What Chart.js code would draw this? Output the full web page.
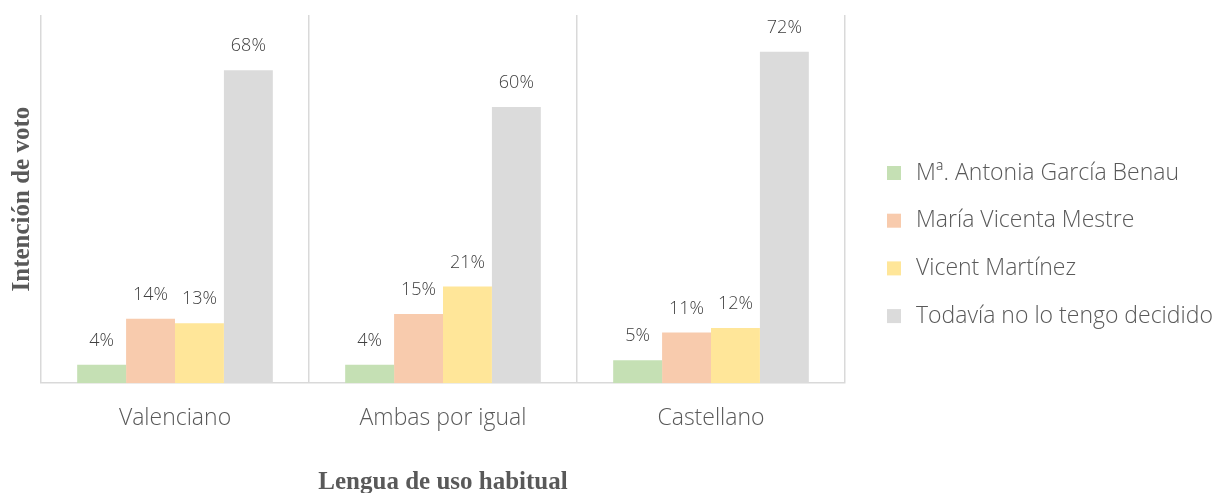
<!DOCTYPE html>
<html>
<head>
<meta charset="utf-8">
<script src="https://cdn.jsdelivr.net/npm/chart.js@4.4.0/dist/chart.umd.min.js"></script>
<style>
  html, body { margin: 0; padding: 0; background: #fff; }
  #wrap { width: 1226px; height: 493px; }
</style>
</head>
<body>
<div id="wrap"><canvas id="voteChart"></canvas></div>
<script>
const categories = ["Valenciano", "Ambas por igual", "Castellano"];
const seriesNames = ["Mª. Antonia García Benau", "María Vicenta Mestre", "Vicent Martínez", "Todavía no lo tengo decidido"];
const garciaBenau = [4, 4, 5];
const vicentaMestre = [14, 15, 11];
const vicentMartinez = [13, 21, 12];
const noDecidido = [68, 60, 72];
const colors = ['#C5E0B4', '#F8CBAD', '#FFE699', '#DBDBDB'];

const sansFont = '"Open Sans", Lato, sans-serif';
const serifFont = '"Liberation Serif", "Times New Roman", serif';

// draws the percentage above every bar
const barLabels = {
    id: 'barLabels',
    afterDatasetsDraw(chart) {
        const ctx = chart.ctx;
        ctx.save();
        ctx.font = '300 18px ' + sansFont;
        ctx.fillStyle = '#404040';
        ctx.textAlign = 'center';
        ctx.textBaseline = 'middle';
        chart.data.datasets.forEach((ds, i) => {
            chart.getDatasetMeta(i).data.forEach((bar, j) => {
                ctx.fillText(ds.data[j] + '%', bar.x, bar.y - 24);
            });
        });
        ctx.restore();
    }
};

// legend on the right, placed like the original
const sideLegend = {
    id: 'sideLegend',
    afterDraw(chart) {
        const ctx = chart.ctx;
        ctx.save();
        ctx.font = '300 23px ' + sansFont;
        ctx.textBaseline = 'middle';
        chart.data.datasets.forEach((ds, i) => {
            const y = 173 + i * 47.7;
            ctx.fillStyle = ds.backgroundColor;
            ctx.fillRect(887, y - 7, 14, 14);
            ctx.fillStyle = '#595959';
            ctx.fillText(ds.label, 916, y);
        });
        ctx.restore();
    }
};

const values = [garciaBenau, vicentaMestre, vicentMartinez, noDecidido];

new Chart(document.getElementById('voteChart'), {
    type: 'bar',
    data: {
        labels: categories,
        datasets: values.map((v, i) => ({
            label: seriesNames[i],
            data: v,
            backgroundColor: colors[i],
            borderWidth: 0,
            categoryPercentage: 0.73,
            barPercentage: 1
        }))
    },
    options: {
        responsive: true,
        maintainAspectRatio: false,
        animation: false,
        layout: { padding: { top: 15, right: 381, left: 8, bottom: 0 } },
        plugins: {
            legend: { display: false },
            tooltip: { enabled: false }
        },
        scales: {
            x: {
                grid: {
                    display: true,
                    color: '#D9D9D9',
                    lineWidth: 1.5,
                    offset: true,
                    drawTicks: false
                },
                border: { display: true, color: '#D9D9D9', width: 1.5 },
                ticks: {
                    padding: 22,
                    color: '#595959',
                    font: { family: sansFont, size: 23, weight: '300' }
                },
                title: {
                    display: true,
                    text: 'Lengua de uso habitual',
                    color: '#595959',
                    font: { family: serifFont, size: 25, weight: 'bold', lineHeight: 0.85 },
                    padding: { top: 17, bottom: 0 }
                }
            },
            y: {
                min: 0,
                max: 80,
                grid: { display: false, drawTicks: false },
                border: { display: false },
                ticks: { display: false, padding: 0 },
                title: {
                    display: true,
                    text: 'Intención de voto',
                    color: '#595959',
                    font: { family: serifFont, size: 25, weight: 'bold', lineHeight: 1 },
                    padding: { top: 2, bottom: 6 }
                }
            }
        }
    },
    plugins: [barLabels, sideLegend]
});
</script>
</body>
</html>
